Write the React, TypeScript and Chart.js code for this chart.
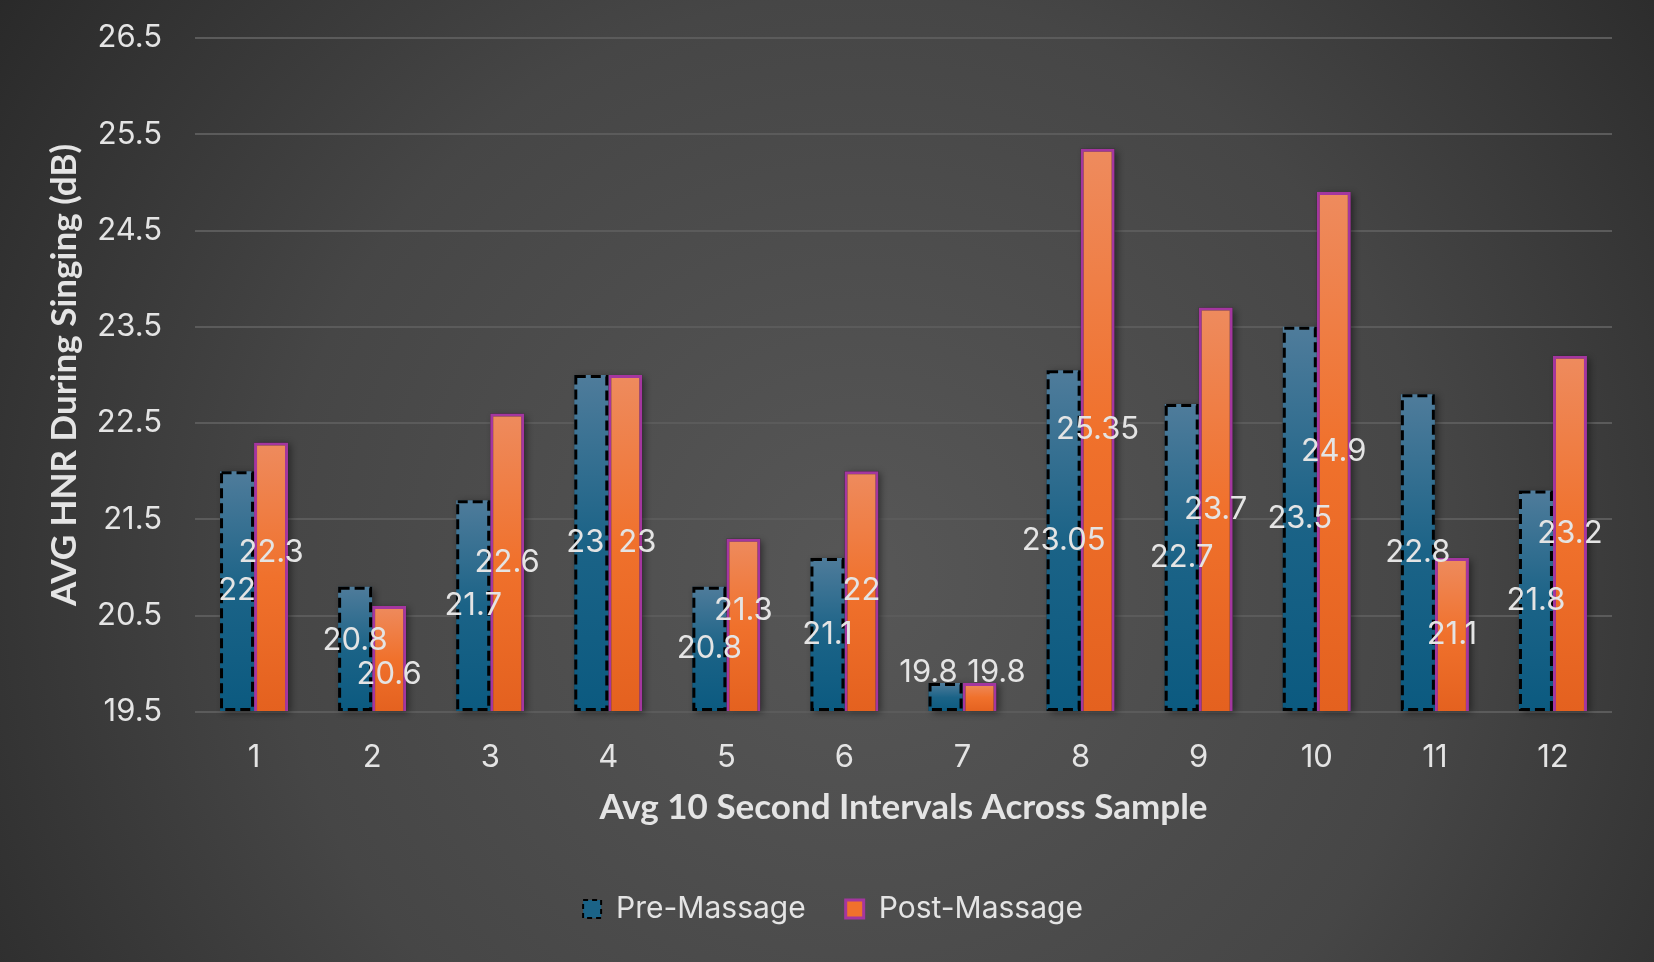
import React, { useEffect, useRef } from 'react';
import { Chart, registerables } from 'chart.js';

Chart.register(...registerables);

// ---------- data ----------
const categories = ['1', '2', '3', '4', '5', '6', '7', '8', '9', '10', '11', '12'];
const preMassage = [22, 20.8, 21.7, 23, 20.8, 21.1, 19.8, 23.05, 22.7, 23.5, 22.8, 21.8];
const postMassage = [22.3, 20.6, 22.6, 23, 21.3, 22, 19.8, 25.35, 23.7, 24.9, 21.1, 23.2];
const seriesNames = ['Pre-Massage', 'Post-Massage'];
const yMin = 19.5;
const yMax = 26.5;
const yStep = 1;
const yTitle = 'AVG HNR During Singing (dB)';
const xTitle = 'Avg 10 Second Intervals Across Sample';

// ---------- styles ----------
const REG = "Inter, 'Noto Sans', sans-serif";
const BOLD = "Lato, 'Noto Sans', sans-serif";
const TEXT = '#e4e4e4';
const PRE = { light: '#4f7c9b', mid: '#1b6387', dark: '#0b5a80', border: '#000000' };
const POST = { light: '#ee8b5e', mid: '#f0712c', dark: '#e4611f', border: '#a4369f' };

// [dx, dy] label nudges (px) for labels that were moved to avoid overlaps
const labelNudges: Record<string, [number, number]> = {
  '0-1': [0, -8],
  '1-0': [0, -24],
  '1-1': [0, 16],
  '0-3': [-6, 0],
  '1-3': [12, 0],
  '1-4': [0, -14],
  '0-6': [-17, -24],
  '1-6': [17, -24],
};

function barGradient(ctx: any, c: { light: string; mid: string; dark: string }) {
  const chart = ctx.chart;
  if (!chart.chartArea || ctx.type !== 'data' || !chart.scales.y) return c.mid;
  const ys = chart.scales.y;
  const top = ys.getPixelForValue(ctx.raw);
  const base = ys.getPixelForValue(yMin);
  const g = chart.ctx.createLinearGradient(0, top, 0, Math.max(base, top + 1));
  g.addColorStop(0, c.light);
  g.addColorStop(0.5, c.mid);
  g.addColorStop(1, c.dark);
  return g;
}

const backgroundPlugin = {
  id: 'bgFill',
  beforeDraw(chart: any) {
    const { ctx, width, height } = chart;
    const cx = width * 0.52;
    const cy = height * 0.6;
    const g = ctx.createRadialGradient(cx, cy, 0, cx, cy, width * 0.64);
    g.addColorStop(0, '#575757');
    g.addColorStop(0.55, '#464646');
    g.addColorStop(1, '#282828');
    ctx.save();
    ctx.fillStyle = g;
    ctx.fillRect(0, 0, width, height);
    ctx.restore();
  },
};

const shadowPlugin = {
  id: 'barShadow',
  beforeDatasetsDraw(chart: any) {
    const { ctx } = chart;
    ctx.save();
    ctx.shadowColor = 'rgba(0,0,0,0.45)';
    ctx.shadowBlur = 7;
    ctx.shadowOffsetX = 3;
    ctx.shadowOffsetY = 2;
    ctx.fillStyle = '#2a2a2a';
    chart.data.datasets.forEach((_: any, di: number) => {
      const meta = chart.getDatasetMeta(di);
      meta.data.forEach((bar: any) => {
        const { x, y, base, width } = bar.getProps(['x', 'y', 'base', 'width'], true);
        ctx.fillRect(x - width / 2, y, width, base - y);
      });
    });
    ctx.restore();
  },
};

const dashedBorderPlugin = {
  id: 'dashedBorder',
  afterDatasetDraw(chart: any, args: any) {
    if (args.index !== 0) return;
    const { ctx } = chart;
    const meta = chart.getDatasetMeta(0);
    ctx.save();
    ctx.strokeStyle = PRE.border;
    ctx.lineWidth = 3;
    ctx.setLineDash([10, 5]);
    meta.data.forEach((bar: any) => {
      const { x, y, base, width } = bar.getProps(['x', 'y', 'base', 'width'], true);
      ctx.strokeRect(x - width / 2 + 1.5, y + 1.5, width - 3, base - y - 3);
    });
    ctx.restore();
  },
};

const valueLabelPlugin = {
  id: 'valueLabels',
  afterDatasetsDraw(chart: any) {
    const { ctx } = chart;
    ctx.save();
    ctx.font = `31px ${REG}`;
    ctx.fillStyle = TEXT;
    ctx.textAlign = 'center';
    ctx.textBaseline = 'middle';
    chart.data.datasets.forEach((ds: any, di: number) => {
      const meta = chart.getDatasetMeta(di);
      meta.data.forEach((bar: any, i: number) => {
        const { x, y, base } = bar.getProps(['x', 'y', 'base'], true);
        const [dx, dy] = labelNudges[`${di}-${i}`] || [0, 0];
        ctx.fillText(String(ds.data[i]), x + dx, (y + base) / 2 + dy);
      });
    });
    ctx.restore();
  },
};

export default function App() {
  const ref = useRef<HTMLCanvasElement>(null);

  useEffect(() => {
    document.body.style.margin = '0';
    const canvas = ref.current;
    if (!canvas) return;
    const chart = new Chart(canvas, {
      type: 'bar',
      data: {
        labels: categories,
        datasets: [
          {
            label: seriesNames[0],
            data: preMassage,
            base: yMin,
            backgroundColor: (c: any) => barGradient(c, PRE),
            borderWidth: 0,
            categoryPercentage: 0.576,
            barPercentage: 1,
          },
          {
            label: seriesNames[1],
            data: postMassage,
            base: yMin,
            backgroundColor: (c: any) => barGradient(c, POST),
            borderColor: POST.border,
            borderWidth: 3,
            categoryPercentage: 0.576,
            barPercentage: 1,
          },
        ],
      },
      options: {
        responsive: false,
        animation: false,
        devicePixelRatio: 1,
        layout: { padding: { top: 38, right: 42, bottom: 28, left: 54 } },
        plugins: {
          legend: {
            position: 'bottom',
            labels: {
              color: TEXT,
              font: { family: REG, size: 30 },
              boxWidth: 18,
              boxHeight: 18,
              padding: 40,
              generateLabels: () => [
                {
                  text: seriesNames[0],
                  fillStyle: PRE.mid,
                  strokeStyle: PRE.border,
                  lineWidth: 2,
                  lineDash: [5, 4],
                  fontColor: TEXT,
                  hidden: false,
                  datasetIndex: 0,
                },
                {
                  text: seriesNames[1],
                  fillStyle: POST.mid,
                  strokeStyle: POST.border,
                  lineWidth: 3,
                  fontColor: TEXT,
                  hidden: false,
                  datasetIndex: 1,
                },
              ],
            },
          },
          tooltip: { enabled: false },
        },
        scales: {
          x: {
            grid: { display: false },
            border: { display: false },
            ticks: { color: TEXT, font: { family: REG, size: 31 }, padding: 19 },
            title: {
              display: true,
              text: xTitle,
              color: TEXT,
              font: { family: BOLD, size: 35, weight: 'bold' },
              padding: { top: 0, bottom: 25 },
            },
            afterFit: (s: any) => {
              s.height = 142;
              s.paddingTop = 0;
              s.paddingBottom = 0;
            },
          },
          y: {
            min: yMin,
            max: yMax,
            ticks: {
              stepSize: yStep,
              color: TEXT,
              font: { family: REG, size: 31 },
              padding: 33,
              callback: (v: any) => Number(v).toFixed(1),
            },
            grid: { color: '#5b5b5b', lineWidth: 2, drawTicks: false },
            border: { display: false },
            title: {
              display: true,
              text: yTitle,
              color: TEXT,
              font: { family: BOLD, size: 35, weight: 'bold' },
              padding: { top: -10, bottom: 0 },
            },
            afterFit: (s: any) => {
              s.width = 141;
              s.paddingTop = 0;
              s.paddingBottom = 0;
            },
          },
        },
      },
      plugins: [backgroundPlugin, shadowPlugin, dashedBorderPlugin, valueLabelPlugin],
    } as any);
    return () => chart.destroy();
  }, []);

  return (
    <div style={{ width: 1654, height: 962 }}>
      <canvas ref={ref} width={1654} height={962} style={{ display: 'block', width: 1654, height: 962 }} />
    </div>
  );
}
